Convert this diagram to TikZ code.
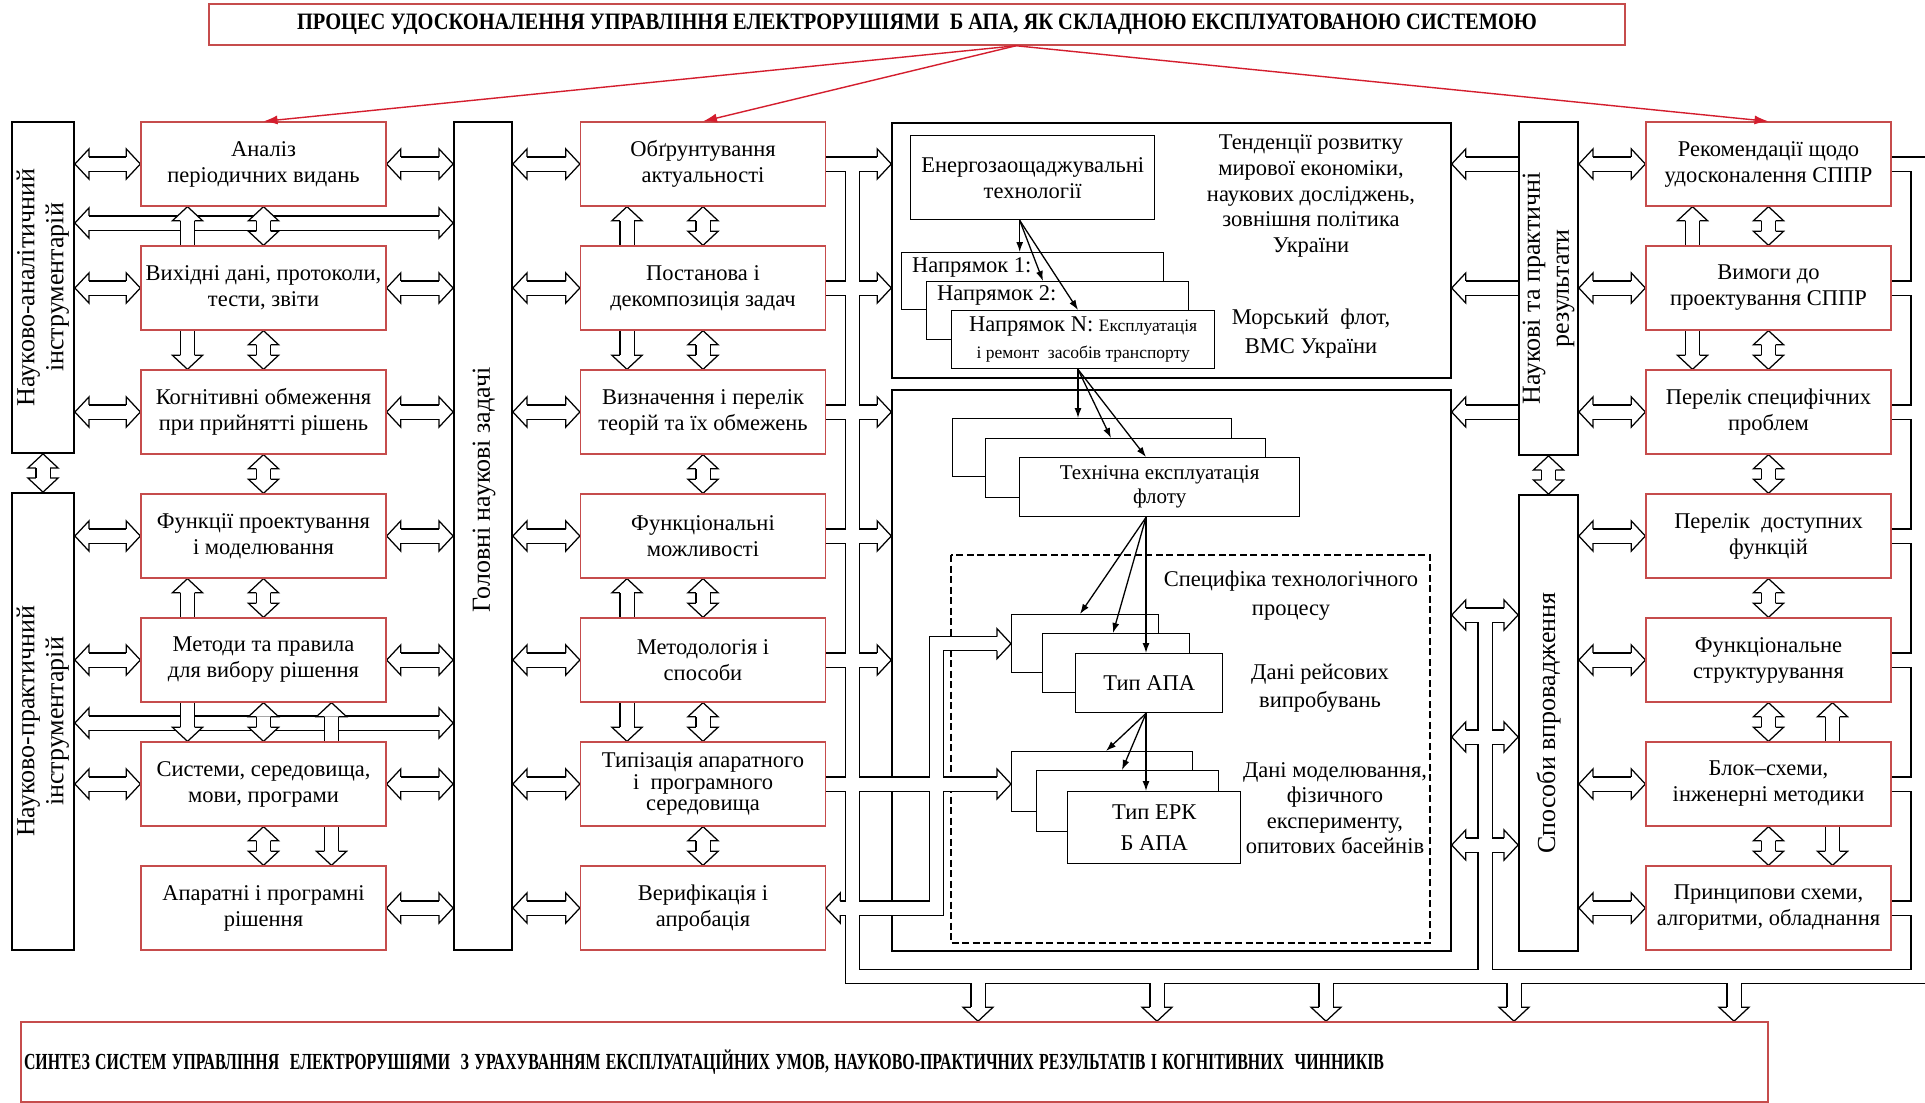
\documentclass[tikz,border=0pt]{standalone}
\usepackage{fontspec}
\setmainfont{Liberation Serif}
\newfontfamily\titlefont[FakeStretch=0.87]{Liberation Serif}
\usetikzlibrary{positioning,arrows.meta,calc}

\definecolor{boxred}{RGB}{198,76,76}
\definecolor{arrred}{RGB}{212,30,46}
\newcommand\bfs{\fontsize{22.5}{26}\selectfont}
\newcommand\vfs{\fontsize{26}{29}\selectfont}
\newcommand\sfs{\fontsize{17.5}{20}\selectfont}

\pgfdeclarelayer{bg}
\pgfdeclarelayer{pipes}
\pgfsetlayers{bg,pipes,main}

\tikzset{
  rbox/.style={draw=boxred, fill=white, line width=1.3pt, minimum width=245pt, minimum height=84pt, align=center, font=\bfs, inner sep=1pt},
  kbox/.style={draw, fill=white, line width=1.4pt, align=center, font=\bfs, inner sep=1pt},
  vbox/.style={draw, fill=white, line width=1.8pt, font=\vfs, inner sep=0pt},
  lbl/.style={align=center, font=\bfs, inner sep=0pt},
  pipeout/.style={line width=15.5pt, black},
  pipein/.style={line width=13pt, white},
  thin arrow/.style={-{Latex[length=10pt,width=7pt]}, line width=1.3pt},
  red arrow/.style={-{Latex[length=14pt,width=9pt]}, arrred, line width=1.4pt},
}

% hollow arrow head: tip, direction
\newcommand\ahead[2]{%
  \begin{scope}[shift={(#1)},rotate=#2]
    \filldraw[fill=white,draw=black,line width=1.25pt]
      (-14,7.1) -- (-14,15) -- (0,0) -- (-14,-15) -- (-14,-7.1);
  \end{scope}}
\newcommand\pipe[1]{\draw[pipeout] #1; \draw[pipein] #1;}
\newcommand\dharrow[2]{\pipe{($(#1)+(14,0)$) -- ($(#2)+(-14,0)$)}\ahead{#1}{180}\ahead{#2}{0}}
\newcommand\dvarrow[2]{\pipe{($(#1)+(0,14)$) -- ($(#2)+(0,-14)$)}\ahead{#1}{90}\ahead{#2}{270}}
\newcommand\uarrow[2]{\pipe{(#1) -- ($(#2)+(0,14)$)}\ahead{#2}{90}}
\newcommand\darrow[2]{\pipe{(#1) -- ($(#2)+(0,-14)$)}\ahead{#2}{270}}
\newcommand\larrow[2]{\pipe{(#1) -- ($(#2)+(14,0)$)}\ahead{#2}{180}}

\begin{document}
\begin{tikzpicture}[x=1pt,y=-1pt]
\useasboundingbox (0,0) rectangle (1925,1103);

% header and footer
\node[draw=boxred, fill=white, line width=1.5pt, minimum width=1416pt, minimum height=41pt, font={\titlefont\bfseries\fontsize{23.5}{26}\selectfont}] (title) at (917,24.5) {ПРОЦЕС УДОСКОНАЛЕННЯ УПРАВЛІННЯ ЕЛЕКТРОРУШІЯМИ \ Б АПА, ЯК СКЛАДНОЮ ЕКСПЛУАТОВАНОЮ СИСТЕМОЮ};
\node[draw=boxred, fill=white, line width=1.5pt, minimum height=80pt, text width=1741pt, inner xsep=3pt, align=left, font={\bfseries\fontsize{23}{26}\selectfont}] (synth) at (894.5,1062) {\resizebox{1360pt}{\height}{СИНТЕЗ СИСТЕМ УПРАВЛІННЯ \ ЕЛЕКТРОРУШІЯМИ \ З УРАХУВАННЯМ ЕКСПЛУАТАЦІЙНИХ УМОВ, НАУКОВО-ПРАКТИЧНИХ РЕЗУЛЬТАТІВ І КОГНІТИВНИХ \ ЧИННИКІВ}};

% instruments and tasks
\node[vbox, minimum width=62pt, minimum height=331pt] (lv1) at (43,287.5) {\rotatebox{90}{\begin{tabular}{@{}c@{}}Науково-аналітичний\\інструментарій\end{tabular}}};
\node[vbox, minimum width=62pt, minimum height=457pt] (lv2) at (43,721.5) {\rotatebox{90}{\begin{tabular}{@{}c@{}}Науково-практичний\\інструментарій\end{tabular}}};
\node[vbox, minimum width=58pt, minimum height=828pt] (gz) at (483,536) {};
\node[lbl, rotate=90, font=\vfs] (gzt) at (484,490) {Головні наукові задачі};
\node[vbox, minimum width=59pt, minimum height=333pt] (nr) at (1548.5,288.5) {\rotatebox{90}{\begin{tabular}{@{}c@{}}Наукові та практичні\\результати\end{tabular}}};
\node[vbox, minimum width=59pt, minimum height=456pt] (sp) at (1548.5,723) {\rotatebox{90}{Способи впровадження}};

\node[rbox] (a1) at (263.5,164) {Аналіз\\періодичних видань};
\node[rbox] (a2) at (263.5,288) {Вихідні дані, протоколи,\\тести, звіти};
\node[rbox] (a3) at (263.5,412) {Когнітивні обмеження\\при прийнятті рішень};
\node[rbox] (a4) at (263.5,536) {Функції проектування\\і моделювання};
\node[rbox] (a5) at (263.5,660) {Методи та правила\\для вибору рішення};
\node[rbox] (a6) at (263.5,784) {Системи, середовища,\\мови, програми};
\node[rbox] (a7) at (263.5,908) {Апаратні і програмні\\рішення};

\node[rbox] (b1) at (703,164) {Обґрунтування\\актуальності};
\node[rbox] (b2) at (703,288) {Постанова і\\декомпозиція задач};
\node[rbox] (b3) at (703,412) {Визначення і перелік\\теорій та їх обмежень};
\node[rbox] (b4) at (703,536) {Функціональні\\можливості};
\node[rbox] (b5) at (703,660) {Методологія і\\способи};
\node[rbox, font={\fontsize{22.5}{21.5}\selectfont}] (b6) at (703,784) {Типізація апаратного\\і \ програмного\\середовища};
\node[rbox] (b7) at (703,908) {Верифікація і\\апробація};

\node[rbox] (c1) at (1768.5,164) {Рекомендації щодо\\удосконалення СППР};
\node[rbox] (c2) at (1768.5,288) {Вимоги до\\проектування СППР};
\node[rbox] (c3) at (1768.5,412) {Перелік специфічних\\проблем};
\node[rbox] (c4) at (1768.5,536) {Перелік \ доступних\\функцій};
\node[rbox] (c5) at (1768.5,660) {Функціональне\\структурування};
\node[rbox] (c6) at (1768.5,784) {Блок–схеми,\\інженерні методики};
\node[rbox] (c7) at (1768.5,908) {Принципови схеми,\\алгоритми, обладнання};

% central panel
\begin{pgfonlayer}{bg}
  \fill[white] (0,0) rectangle (1925,1103);
  \node[draw, line width=1.4pt, minimum width=559pt, minimum height=255pt, inner sep=0pt] (up) at (1171.5,250.5) {};
  \node[draw, line width=1.4pt, minimum width=559pt, minimum height=561pt, inner sep=0pt] (low) at (1171.5,670.5) {};
  \draw[line width=1.8pt, dash pattern=on 7pt off 3.5pt] (951,555) rectangle (1430,943);
\end{pgfonlayer}

\node[kbox, anchor=north west, minimum width=244pt, minimum height=84pt] (en) at (910,135) {Енергозаощаджувальні\\технології};
\node[kbox, anchor=north west, minimum width=262pt, minimum height=57pt] (dir1) at (901,252) {};
\node[lbl, anchor=west] (dir1t) at ([xshift=11pt,yshift=-15pt]dir1.north west) {Напрямок 1:};
\node[kbox, anchor=north west, minimum width=262pt, minimum height=58pt] (dir2) at (926,281) {};
\node[lbl, anchor=west] (dir2t) at ([xshift=11pt,yshift=-14pt]dir2.north west) {Напрямок 2:};
\node[kbox, anchor=north west, minimum width=263pt, minimum height=58pt] (dirN) at (951,310) {Напрямок N: {\sfs Експлуатація}\\[1pt]{\sfs і ремонт \ засобів транспорту}};

\node[kbox, anchor=north west, minimum width=279pt, minimum height=58pt] (tex1) at (952,418) {};
\node[kbox, anchor=north west, minimum width=280pt, minimum height=59pt] (tex2) at (985,438) {};
\node[kbox, anchor=north west, minimum width=280pt, minimum height=59pt, font={\fontsize{21}{24}\selectfont}] (tex3) at (1019,457) {Технічна експлуатація\\флоту};

\node[kbox, anchor=north west, minimum width=147pt, minimum height=58pt] (apa1) at (1011,614) {};
\node[kbox, anchor=north west, minimum width=147pt, minimum height=59pt] (apa2) at (1042,633) {};
\node[kbox, anchor=north west, minimum width=147pt, minimum height=59pt] (apa3) at (1075,653) {Тип АПА};

\node[kbox, anchor=north west, minimum width=181pt, minimum height=60pt] (erk1) at (1011,751) {};
\node[kbox, anchor=north west, minimum width=182pt, minimum height=61pt] (erk2) at (1036,770) {};
\node[kbox, anchor=north west, minimum width=173pt, minimum height=72pt, font={\fontsize{22.5}{31}\selectfont}] (erk3) at (1067,791) {Тип ЕРК\\Б АПА};

\node[lbl, font={\fontsize{22.5}{25.7}\selectfont}] (trend) at (1311,196) {Тенденції розвитку\\мирової економіки,\\наукових досліджень,\\зовнішня політика\\України};
\node[lbl, font={\fontsize{22.5}{29}\selectfont}] (fleet) at (1311,334) {Морський \ флот,\\ВМС України};
\node[lbl, font={\fontsize{22.5}{29}\selectfont}] (spec) at (1291,596) {Специфіка технологічного\\процесу};
\node[lbl, font={\fontsize{22.5}{28}\selectfont}] (trial) at (1320,688) {Дані рейсових\\випробувань};
\node[lbl, font={\fontsize{22.5}{25.5}\selectfont}] (model) at (1335,808) {Дані моделювання,\\фізичного\\експерименту,\\опитових басейнів};

\coordinate (o1) at ([xshift=-13pt]en.south);
\draw[thin arrow] (o1) -- (o1 |- dir1.north);
\draw[thin arrow] (o1) -- (dir2.north -| 1043,0);
\draw[thin arrow] (o1) -- (dirN.north -| 1078,0);
\coordinate (o2) at (dirN.south -| 1078,0);
\draw[thin arrow] (o2) -- (o2 |- tex1.north);
\draw[thin arrow] (o2) -- (tex2.north -| 1111,0);
\draw[thin arrow] (o2) -- (tex3.north -| 1146,0);
\coordinate (o3) at (tex3.south -| 1146,0);
\draw[thin arrow] (o3) -- (apa1.north -| 1080,0);
\draw[thin arrow] (o3) -- (apa2.north -| 1113,0);
\draw[thin arrow] (o3) -- (o3 |- apa3.north);
\coordinate (o4) at (apa3.south -| 1146,0);
\draw[thin arrow] (o4) -- (erk1.north -| 1106,0);
\draw[thin arrow] (o4) -- (erk2.north -| 1122,0);
\draw[thin arrow] (o4) -- (o4 |- erk3.north);

% red arrows from the header
\coordinate (t0) at ([xshift=99pt]title.south);
\draw[red arrow] (t0) -- (a1.north);
\draw[red arrow] (t0) -- (b1.north);
\draw[red arrow] (t0) -- (c1.north);

% hollow connectors
\begin{pgfonlayer}{pipes}
\coordinate (h1) at (0,223);
\coordinate (h2) at (0,723);
\dharrow{lv1.east |- h1}{gz.west |- h1}
\dharrow{lv2.east |- h2}{gz.west |- h2}
\dharrow{lv1.east |- a1.west}{a1.west}
\dharrow{lv1.east |- a2.west}{a2.west}
\dharrow{lv1.east |- a3.west}{a3.west}
\dharrow{lv2.east |- a4.west}{a4.west}
\dharrow{lv2.east |- a5.west}{a5.west}
\dharrow{lv2.east |- a6.west}{a6.west}
\dvarrow{lv1.south}{lv2.north}
\dvarrow{nr.south}{sp.north}
\foreach \r in {1,...,7}{
  \dharrow{a\r.east}{gz.west |- a\r.east}
  \dharrow{gz.east |- b\r.west}{b\r.west}
}
\dharrow{nr.east |- c1.west}{c1.west}
\dharrow{nr.east |- c2.west}{c2.west}
\dharrow{nr.east |- c3.west}{c3.west}
\dharrow{sp.east |- c4.west}{c4.west}
\dharrow{sp.east |- c5.west}{c5.west}
\dharrow{sp.east |- c6.west}{c6.west}
\dharrow{sp.east |- c7.west}{c7.west}
\larrow{nr.west |- c1.west}{up.east |- c1.west}
\larrow{nr.west |- c2.west}{up.east |- c2.west}
\larrow{nr.west |- c3.west}{low.east |- c3.west}

% vertical links in the columns
\dvarrow{a1.south}{a2.north}
\dvarrow{a2.south}{a3.north}
\dvarrow{a3.south}{a4.north}
\dvarrow{a4.south}{a5.north}
\dvarrow{a5.south}{a6.north}
\dvarrow{a6.south}{a7.north}
\uarrow{[xshift=-76pt]a2.north}{[xshift=-76pt]a1.south}
\darrow{[xshift=-76pt]a2.south}{[xshift=-76pt]a3.north}
\uarrow{[xshift=-76pt]a5.north}{[xshift=-76pt]a4.south}
\darrow{[xshift=-76pt]a5.south}{[xshift=-76pt]a6.north}
\uarrow{[xshift=68pt]a6.north}{[xshift=68pt]a5.south}
\darrow{[xshift=68pt]a6.south}{[xshift=68pt]a7.north}

\dvarrow{b1.south}{b2.north}
\dvarrow{b2.south}{b3.north}
\dvarrow{b3.south}{b4.north}
\dvarrow{b4.south}{b5.north}
\dvarrow{b5.south}{b6.north}
\dvarrow{b6.south}{b7.north}
\uarrow{[xshift=-76pt]b2.north}{[xshift=-76pt]b1.south}
\darrow{[xshift=-76pt]b2.south}{[xshift=-76pt]b3.north}
\uarrow{[xshift=-76pt]b5.north}{[xshift=-76pt]b4.south}
\darrow{[xshift=-76pt]b5.south}{[xshift=-76pt]b6.north}

\dvarrow{c1.south}{c2.north}
\dvarrow{c2.south}{c3.north}
\dvarrow{c3.south}{c4.north}
\dvarrow{c4.south}{c5.north}
\dvarrow{c5.south}{c6.north}
\dvarrow{c6.south}{c7.north}
\uarrow{[xshift=-76pt]c2.north}{[xshift=-76pt]c1.south}
\darrow{[xshift=-76pt]c2.south}{[xshift=-76pt]c3.north}
\uarrow{[xshift=64pt]c6.north}{[xshift=64pt]c5.south}
\darrow{[xshift=64pt]c6.south}{[xshift=64pt]c7.north}

% bus to the central panel and to the synthesis
\coordinate (bl) at ([xshift=26.5pt]b1.east);
\coordinate (br) at ([xshift=26.5pt]c1.east);
\coordinate (bb) at (0,976.5);
\coordinate (ix) at (apa1.west -| 936.5,0);
\coordinate (sx) at (1485,615);
\coordinate (s2) at (0,737);
\coordinate (s3) at (0,845);
\def\busnet{
  (b1.east) -- ($(b1.east -| up.west)+(-14,0)$)
  (b2.east) -- ($(b2.east -| up.west)+(-14,0)$)
  (b3.east) -- ($(b3.east -| low.west)+(-14,0)$)
  (b4.east) -- ($(b4.east -| low.west)+(-14,0)$)
  (b5.east) -- ($(b5.east -| low.west)+(-14,0)$)
  (b6.east) -- ($(b6.east -| erk1.west)+(-14,0)$)
  ($(apa1.west)+(-14,0)$) -- (ix) -- (ix |- b7.east) -- ($(b7.east)+(14,0)$)
  (bl) -- (bl |- bb) -- (br |- bb) -- (br) -- (c1.east)
  (c2.east) -- (c2.east -| br)
  (c3.east) -- (c3.east -| br)
  (c4.east) -- (c4.east -| br)
  (c5.east) -- (c5.east -| br)
  (c6.east) -- (c6.east -| br)
  (c7.east) -- (c7.east -| br)
  (sx) -- (sx |- bb)
  ($(low.east |- sx)+(14,0)$) -- ($(sp.west |- sx)+(-14,0)$)
  ($(low.east |- s2)+(14,0)$) -- ($(sp.west |- s2)+(-14,0)$)
  ($(low.east |- s3)+(14,0)$) -- ($(sp.west |- s3)+(-14,0)$)
  (bb -| 978,0) -- ($(synth.north -| 978,0)+(0,-14)$)
  (bb -| 1157,0) -- ($(synth.north -| 1157,0)+(0,-14)$)
  (bb -| 1326,0) -- ($(synth.north -| 1326,0)+(0,-14)$)
  (bb -| 1514,0) -- ($(synth.north -| 1514,0)+(0,-14)$)
  (bb -| 1734,0) -- ($(synth.north -| 1734,0)+(0,-14)$)
}
\draw[pipeout] \busnet;
\draw[pipein] \busnet;
\ahead{b1.east -| up.west}{0}
\ahead{b2.east -| up.west}{0}
\ahead{b3.east -| low.west}{0}
\ahead{b4.east -| low.west}{0}
\ahead{b5.east -| low.west}{0}
\ahead{b6.east -| erk1.west}{0}
\ahead{apa1.west}{0}
\ahead{b7.east}{180}
\ahead{low.east |- sx}{180}
\ahead{sp.west |- sx}{0}
\ahead{low.east |- s2}{180}
\ahead{sp.west |- s2}{0}
\ahead{low.east |- s3}{180}
\ahead{sp.west |- s3}{0}
\foreach \x in {978,1157,1326,1514,1734}{
  \ahead{synth.north -| \x,0}{270}
}
\end{pgfonlayer}
\end{tikzpicture}
\end{document}
